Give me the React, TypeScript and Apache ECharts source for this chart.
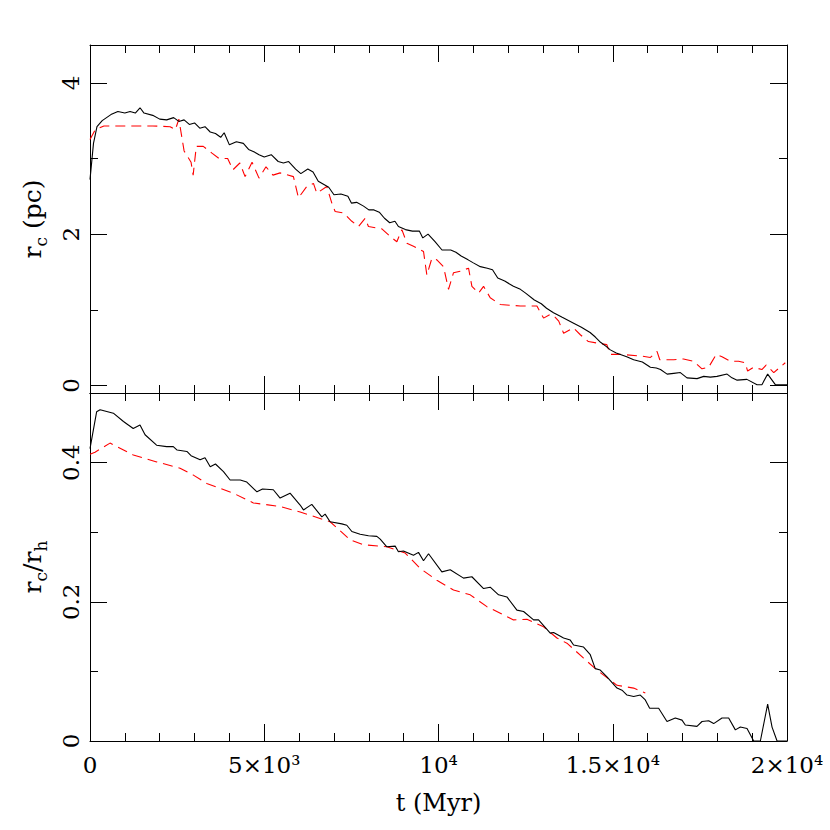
import React, { useEffect, useRef } from "react";
import * as echarts from "echarts";

const xTicks = [0, 5000, 10000, 15000, 20000];
const xTickLabels = ["0", "5×10³", "10⁴", "1.5×10⁴", "2×10⁴"];
const rcTicks = [0, 2, 4];
const rcTickLabels = ["0", "2", "4"];
const rcMinorTicks = [1, 3];
const ratioTicks = [0, 0.2, 0.4];
const ratioTickLabels = ["0", "0.2", "0.4"];
const ratioMinorTicks = [0.1, 0.3];

// top panel: core radius r_c (pc), solid black
const rcSolid: [number, number][] = [
  [0, 2.72], [100, 3.2], [200, 3.42], [350, 3.5], [600, 3.58], [800, 3.62], [1000, 3.6], [1150, 3.62],
  [1300, 3.6], [1435, 3.67], [1550, 3.6], [1800, 3.57], [2000, 3.52], [2200, 3.51], [2400, 3.54],
  [2550, 3.49], [2700, 3.51], [2850, 3.45], [3000, 3.47], [3150, 3.4], [3300, 3.42], [3450, 3.35],
  [3600, 3.33], [3750, 3.28], [3850, 3.34], [4000, 3.18], [4200, 3.22], [4400, 3.2], [4550, 3.12],
  [4700, 3.09], [4850, 3.05], [5000, 3.02], [5200, 3.05], [5400, 2.96], [5550, 2.94], [5700, 2.96],
  [5900, 2.86], [6050, 2.8], [6250, 2.86], [6400, 2.82], [6550, 2.7], [6700, 2.66], [6850, 2.62],
  [7000, 2.52], [7200, 2.53], [7400, 2.5], [7500, 2.41], [7650, 2.42], [7850, 2.37], [8000, 2.32],
  [8150, 2.32], [8300, 2.29], [8450, 2.21], [8600, 2.15], [8750, 2.17], [8850, 2.1], [9050, 2.06],
  [9250, 2.04], [9450, 2.04], [9550, 1.95], [9700, 2.0], [9900, 1.9], [10100, 1.79], [10350, 1.79],
  [10500, 1.76], [10650, 1.71], [10850, 1.66], [11000, 1.62], [11200, 1.57], [11400, 1.55],
  [11550, 1.53], [11700, 1.42], [11900, 1.38], [12150, 1.31], [12350, 1.27], [12500, 1.22],
  [12750, 1.13], [12950, 1.08], [13100, 1.02], [13300, 0.96], [13550, 0.9], [13850, 0.83],
  [14100, 0.77], [14350, 0.7], [14500, 0.64], [14650, 0.57], [14800, 0.52], [14930, 0.47],
  [15100, 0.43], [15220, 0.41], [15400, 0.38], [15600, 0.34], [15850, 0.31], [16080, 0.24],
  [16250, 0.23], [16370, 0.21], [16560, 0.15], [16750, 0.16], [16940, 0.17], [17130, 0.1],
  [17420, 0.09], [17610, 0.12], [17800, 0.11], [17990, 0.12], [18280, 0.15], [18420, 0.1],
  [18570, 0.07], [18850, 0.08], [19140, 0.01], [19280, 0.01], [19445, 0.15], [19665, 0.01], [20000, 0.01],
];

// top panel: r_c (pc), red dashed
const rcDashed: [number, number][] = [
  [0, 3.25], [150, 3.38], [400, 3.43], [1000, 3.43], [1800, 3.43], [2300, 3.42], [2450, 3.38],
  [2550, 3.52], [2700, 3.1], [2900, 2.95], [2960, 2.78], [3050, 3.16], [3250, 3.16], [3500, 3.07],
  [3700, 3.0], [3950, 3.0], [4100, 2.85], [4300, 2.94], [4450, 2.76], [4650, 2.95], [4850, 2.74],
  [5050, 2.89], [5250, 2.78], [5455, 2.81], [5837, 2.76], [5981, 2.48], [6221, 2.63], [6412, 2.67],
  [6508, 2.54], [6795, 2.63], [6939, 2.41], [7034, 2.3], [7273, 2.28], [7513, 2.17], [7703, 2.1],
  [7895, 2.21], [7990, 2.1], [8375, 2.07], [8613, 1.97], [8805, 1.9], [8949, 2.06], [9092, 1.88],
  [9282, 1.84], [9570, 1.77], [9666, 1.46], [9810, 1.68], [9953, 1.66], [10144, 1.57], [10288, 1.27],
  [10431, 1.49], [10623, 1.51], [10862, 1.55], [10958, 1.31], [11149, 1.22], [11293, 1.31],
  [11484, 1.16], [11771, 1.07], [12345, 1.05], [12824, 1.05], [13015, 0.89], [13207, 0.94],
  [13350, 0.9], [13450, 0.85], [13590, 0.69], [13876, 0.76], [14070, 0.67], [14300, 0.58],
  [14550, 0.56], [14830, 0.54], [14930, 0.41], [15220, 0.41], [15790, 0.39], [16080, 0.37],
  [16270, 0.45], [16350, 0.34], [16750, 0.34], [17030, 0.35], [17320, 0.32], [17560, 0.22],
  [17750, 0.24], [17970, 0.41], [18135, 0.38], [18370, 0.32], [18610, 0.32], [18800, 0.3],
  [18870, 0.19], [19040, 0.24], [19280, 0.21], [19400, 0.27], [19620, 0.17], [19950, 0.3],
];

// bottom panel: r_c / r_h, solid black
const ratioSolid: [number, number][] = [
  [0, 0.42], [190, 0.473], [290, 0.476], [670, 0.471], [960, 0.459], [1240, 0.449], [1435, 0.454],
  [1580, 0.44], [1910, 0.425], [2200, 0.423], [2390, 0.423], [2500, 0.418], [2780, 0.416], [2900, 0.41],
  [3160, 0.404], [3300, 0.407], [3450, 0.394], [3600, 0.398], [3830, 0.387], [4020, 0.375],
  [4310, 0.375], [4500, 0.372], [4790, 0.358], [4950, 0.362], [5260, 0.361], [5455, 0.349],
  [5740, 0.356], [6030, 0.339], [6125, 0.332], [6364, 0.34], [6652, 0.322], [6747, 0.326],
  [6890, 0.315], [7226, 0.312], [7369, 0.31], [7513, 0.301], [7752, 0.297], [7990, 0.295],
  [8231, 0.294], [8327, 0.29], [8518, 0.279], [8757, 0.28], [8851, 0.272], [8995, 0.273],
  [9282, 0.267], [9426, 0.271], [9570, 0.259], [9714, 0.269], [10097, 0.243], [10336, 0.246],
  [10718, 0.234], [10958, 0.236], [11293, 0.219], [11484, 0.221], [11723, 0.21], [11963, 0.207],
  [12250, 0.188], [12441, 0.186], [12728, 0.174], [12871, 0.174], [13207, 0.155], [13302, 0.156],
  [13589, 0.148], [13781, 0.145], [13876, 0.138], [14163, 0.135], [14355, 0.124], [14498, 0.104],
  [14642, 0.102], [14834, 0.092], [15122, 0.076], [15265, 0.073], [15409, 0.066], [15600, 0.064],
  [15790, 0.066], [15934, 0.059], [16059, 0.047], [16317, 0.047], [16556, 0.028], [16795, 0.033],
  [16987, 0.03], [17082, 0.023], [17417, 0.021], [17561, 0.028], [17752, 0.029], [17896, 0.025],
  [18135, 0.033], [18326, 0.033], [18518, 0.016], [18661, 0.02], [18853, 0.018], [19044, 0.0],
  [19236, 0.0], [19445, 0.053], [19571, 0.02], [19715, 0.0], [20000, 0.0],
];

// bottom panel: r_c / r_h, red dashed
const ratioDashed: [number, number][] = [
  [0, 0.412], [144, 0.415], [574, 0.428], [1244, 0.411], [1914, 0.401], [2584, 0.392], [2967, 0.382],
  [3350, 0.37], [4114, 0.356], [4689, 0.342], [5455, 0.337], [6029, 0.329], [6890, 0.315],
  [7465, 0.289], [7847, 0.282], [8518, 0.279], [9044, 0.27], [9474, 0.248], [9953, 0.231],
  [10431, 0.217], [10910, 0.21], [11389, 0.193], [12153, 0.174], [12537, 0.175], [13015, 0.164],
  [13398, 0.148], [13700, 0.14], [14163, 0.119], [14546, 0.102], [15122, 0.08], [15600, 0.076],
  [15934, 0.069],
];

const FONT = "DejaVu Serif";
const INK = "#000";

const richName = {
  n: { fontSize: 25, fontFamily: FONT, color: INK, lineHeight: 28 },
  s: { fontSize: 17, fontFamily: FONT, color: INK, lineHeight: 17, padding: [17, 0, 0, 0] },
};

function xAxisDef(gridIndex: number, position: "top" | "bottom", labels: boolean, name?: string) {
  return {
    type: "value",
    gridIndex,
    position,
    min: 0,
    max: 20000,
    interval: 5000,
    name: name || "",
    nameLocation: "middle",
    nameGap: 50,
    nameTextStyle: { fontFamily: FONT, fontSize: 24, color: INK },
    axisLine: { show: true, onZero: false, lineStyle: { color: INK, width: 1 } },
    axisTick: { show: true, inside: true, length: 17, lineStyle: { color: INK, width: 1 } },
    minorTick: { show: true, splitNumber: 5, length: 8, lineStyle: { color: INK, width: 1 } },
    splitLine: { show: false },
    minorSplitLine: { show: false },
    axisLabel: {
      show: labels,
      margin: 12,
      fontFamily: FONT,
      fontSize: 23,
      color: INK,
      formatter: (v: number) => {
        const i = xTicks.indexOf(v);
        return i >= 0 ? xTickLabels[i] : "";
      },
    },
  };
}

function yAxisDef(
  gridIndex: number,
  position: "left" | "right",
  min: number,
  max: number,
  ticks: number[],
  tickLen: number,
  line: boolean,
  labels?: { values: number[]; texts: string[] },
  name?: string
) {
  return {
    type: "value",
    gridIndex,
    position,
    min,
    max,
    name: name || "",
    nameLocation: "middle",
    nameGap: 44,
    nameRotate: 90,
    nameTextStyle: { rich: richName },
    axisLine: { show: line, onZero: false, lineStyle: { color: INK, width: 1 } },
    axisTick: {
      show: true,
      inside: true,
      length: tickLen,
      customValues: ticks,
      lineStyle: { color: INK, width: 1 },
    },
    splitLine: { show: false },
    axisLabel: labels
      ? {
          show: true,
          customValues: labels.values,
          rotate: 90,
          margin: 8,
          fontFamily: FONT,
          fontSize: 23,
          color: INK,
          formatter: (v: number) => {
            const i = labels.values.findIndex((t) => Math.abs(t - v) < 1e-9);
            return i >= 0 ? labels.texts[i] : "";
          },
        }
      : { show: false },
  };
}

export default function App() {
  const ref = useRef<HTMLDivElement>(null);
  useEffect(() => {
    if (!ref.current) return;
    const chart = echarts.init(ref.current, null, { renderer: "svg" });
    const option = {
      animation: false,
      backgroundColor: "#fff",
      grid: [
        { left: 90, top: 45, width: 697, height: 348 },
        { left: 90, top: 393, width: 697, height: 348 },
      ],
      xAxis: [
        xAxisDef(0, "bottom", false),
        xAxisDef(0, "top", false),
        xAxisDef(1, "bottom", true, "t (Myr)"),
        xAxisDef(1, "top", false),
      ],
      yAxis: [
        yAxisDef(0, "left", -0.1, 4.5, rcTicks, 17, true, { values: rcTicks, texts: rcTickLabels }, "{n|r}{s|c}{n| (pc)}"),
        yAxisDef(0, "left", -0.1, 4.5, rcMinorTicks, 8, false),
        yAxisDef(0, "right", -0.1, 4.5, rcTicks, 17, true),
        yAxisDef(0, "right", -0.1, 4.5, rcMinorTicks, 8, false),
        yAxisDef(1, "left", 0, 0.5, ratioTicks, 17, true, { values: ratioTicks, texts: ratioTickLabels }, "{n|r}{s|c}{n|/r}{s|h}"),
        yAxisDef(1, "left", 0, 0.5, ratioMinorTicks, 8, false),
        yAxisDef(1, "right", 0, 0.5, ratioTicks, 17, true),
        yAxisDef(1, "right", 0, 0.5, ratioMinorTicks, 8, false),
      ],
      series: [
        {
          type: "line",
          xAxisIndex: 0,
          yAxisIndex: 0,
          data: rcDashed,
          showSymbol: false,
          lineStyle: { color: "#ff0000", width: 1.1, type: [10, 6] },
        },
        {
          type: "line",
          xAxisIndex: 0,
          yAxisIndex: 0,
          data: rcSolid,
          showSymbol: false,
          lineStyle: { color: INK, width: 1.1 },
        },
        {
          type: "line",
          xAxisIndex: 2,
          yAxisIndex: 4,
          data: ratioDashed,
          showSymbol: false,
          lineStyle: { color: "#ff0000", width: 1.1, type: [10, 6] },
        },
        {
          type: "line",
          xAxisIndex: 2,
          yAxisIndex: 4,
          data: ratioSolid,
          showSymbol: false,
          lineStyle: { color: INK, width: 1.1 },
        },
      ],
    };
    chart.setOption(option as any);
    return () => chart.dispose();
  }, []);
  return (
    <div
      ref={ref}
      style={{ position: "absolute", left: 0, top: 0, width: 830, height: 830 }}
    />
  );
}
